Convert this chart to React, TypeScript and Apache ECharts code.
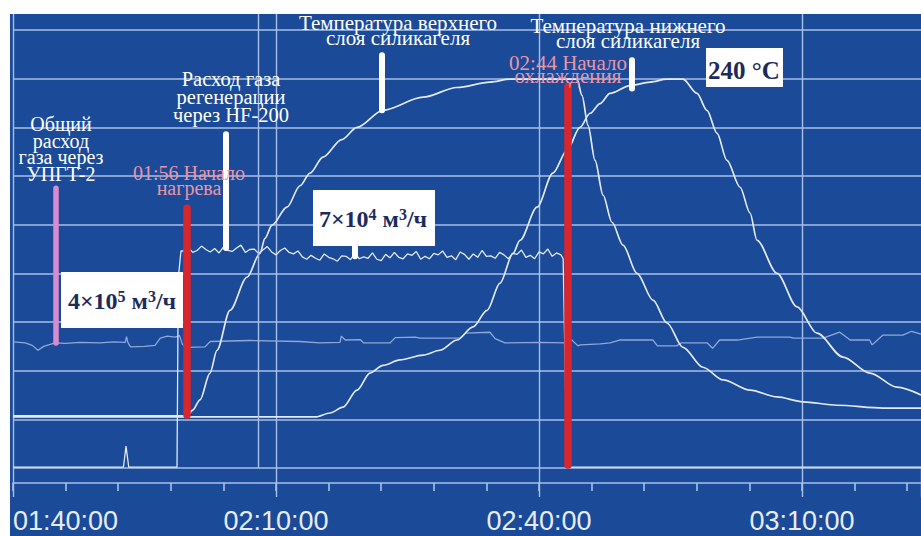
import { useEffect, useRef } from "react";
import * as echarts from "echarts";

// x values: minutes after 01:40:00; y values: trend units (one grid division = 1)
const START_MINUTES = 100; // 01:40:00
const X_MAX = 103.57;
const Y_MAX = 9.33;

// Общий расход газа через УПГТ-2
const totalGasFlow: [number, number][] = [
  [0, 2.59], [1.4, 2.57], [2.2, 2.52], [2.85, 2.42], [3.5, 2.5], [4.8, 2.57], [6, 2.56], [7.6, 2.58],
  [9.9, 2.57], [11.5, 2.59], [12.8, 2.58], [12.95, 2.7], [13.1, 2.58], [13.4, 2.49], [15, 2.5],
  [16.2, 2.52], [16.8, 2.67], [17.6, 2.71], [18.5, 2.69], [19.0, 2.72], [19.3, 2.55], [19.7, 2.48],
  [21.9, 2.49], [22.5, 2.6], [27, 2.62], [32.7, 2.6], [35, 2.57], [37.3, 2.58], [37.45, 2.71],
  [37.9, 2.63], [39.6, 2.64], [40, 2.57], [43, 2.57], [43.6, 2.68], [45.9, 2.69], [46.4, 2.67],
  [51, 2.67], [51.6, 2.77], [54.4, 2.79], [55, 2.66], [56.1, 2.57], [60, 2.58], [63, 2.57],
  [63.5, 2.67], [64.45, 2.51], [64.7, 2.53], [67, 2.55], [68.1, 2.57], [69.2, 2.63], [73.0, 2.63],
  [73.5, 2.51], [75.7, 2.51], [76.2, 2.57], [79.2, 2.57], [79.8, 2.46], [80.6, 2.63], [82.6, 2.63],
  [84.9, 2.69], [88.6, 2.69], [89.0, 2.67], [92.4, 2.67], [94.3, 2.79], [95.5, 2.63], [97.7, 2.63],
  [98.0, 2.53], [99.2, 2.73], [101.5, 2.73], [102.5, 2.81], [103.57, 2.75],
];

// Расход газа регенерации через HF-200
const regenFlowBefore: [number, number][] = [
  [0, 0.02], [12.6, 0.02], [12.89, 0.45], [13.2, 0.02], [18.71, 0.02], [18.85, 3.9], [19.16, 4.46],
];
const regenPlateauStart = 19.5;
const regenPlateauStep = 0.5;
const regenFlowPlateau = [
  4.46, 4.53, 4.43, 4.47, 4.56, 4.49, 4.44, 4.51, 4.42, 4.54,
  4.47, 4.45, 4.52, 4.58, 4.43, 4.49, 4.5, 4.41, 4.48, 4.55,
  4.44, 4.38, 4.47, 4.52, 4.43, 4.4, 4.46, 4.34, 4.29, 4.37,
  4.31, 4.27, 4.4, 4.33, 4.3, 4.25, 4.36, 4.35, 4.28, 4.41,
  4.3, 4.34, 4.31, 4.42, 4.29, 4.26, 4.39, 4.32, 4.43, 4.33,
  4.3, 4.4, 4.37, 4.45, 4.29, 4.35, 4.3, 4.41, 4.38, 4.46,
  4.33, 4.36, 4.28, 4.44, 4.39, 4.29, 4.4, 4.33, 4.47, 4.35,
  4.36, 4.31, 4.43, 4.38, 4.3, 4.41, 4.39, 4.48, 4.33, 4.37,
  4.3, 4.44, 4.4, 4.5, 4.35, 4.42, 4.38,
];
const regenFlowAfter: [number, number][] = [
  [62.75, 4.3], [63.19, 0.06], [63.6, 0.02], [103.57, 0.02],
];

// Температура верхнего слоя силикагеля
const upperTemp: [number, number][] = [
  [0, 1.07], [19.85, 1.07], [20.5, 1.19], [21.33, 1.4], [22.47, 1.95], [23.27, 2.42], [24.75, 3.24],
  [26.69, 3.92], [28.17, 4.41], [28.74, 4.72], [29.54, 4.99], [31.25, 5.36], [32.74, 5.8],
  [33.88, 6.06], [35.36, 6.39], [37.5, 6.75], [39.24, 7.0], [42.2, 7.35], [46.77, 7.62],
  [50.64, 7.82], [54.41, 7.93], [56.69, 7.99], [64.33, 7.99], [64.9, 7.66], [65.59, 7.04],
  [66.39, 6.32], [67.3, 5.61], [68.32, 5.05], [69.58, 4.58], [71.18, 4.0], [73.0, 3.45],
  [74.6, 2.98], [76.42, 2.48], [78.7, 2.07], [80.99, 1.81], [84.07, 1.6], [87.15, 1.46],
  [90.11, 1.36], [93.99, 1.29], [99.24, 1.23], [103.57, 1.23],
];

// Температура нижнего слоя силикагеля
const lowerTemp: [number, number][] = [
  [0, 1.05], [34.5, 1.05], [36.16, 1.13], [37.64, 1.25], [39.24, 1.6], [40.72, 1.95], [42.2, 2.11],
  [44.14, 2.22], [46.77, 2.32], [48.71, 2.42], [50.64, 2.63], [52.47, 2.9], [54.07, 3.24],
  [55.55, 3.8], [57.03, 4.41], [57.83, 4.68], [59.77, 5.36], [61.59, 6.06], [63.19, 6.53],
  [64.67, 7.0], [65.82, 7.29], [66.96, 7.49], [68.1, 7.7], [70.38, 7.86], [72.66, 7.93],
  [74.6, 7.99], [76.42, 7.99], [78.02, 7.7], [79.16, 7.35], [80.3, 6.88], [81.44, 6.32],
  [82.93, 5.77], [84.07, 5.24], [84.86, 4.68], [87.15, 4.0], [89.43, 3.31], [91.71, 2.77],
  [94.67, 2.28], [97.75, 1.95], [100.83, 1.66], [103.57, 1.5],
];

// pointer bars: time, lower value, upper value
const pinkBars = [[4.85, 2.57, 5.75]];
const whiteBars = [[24.3, 4.52, 6.86], [42.1, 7.35, 8.48], [70.6, 7.8, 8.38], [39.0, 4.35, 4.6]];
const redBars = [[19.85, 1.09, 5.34], [63.3, 0.06, 7.84]];
const cursorTime = 27.95;

const BG = "#1b4a98";
const GRID = "#a9bfe9";
const CURVE = "#e2e9f8";
const TOTAL = "#8fa8da";
const WHITE = "#ffffff";
const PINK = "#e895a8";
const NAVY = "#1c2a5c";
const SERIF = "'Liberation Serif', 'Times New Roman', serif";

const notes = [
  { lines: ["Общий", "расход", "газа через", "УПГТ-2"], cx: 61, base: 131, gap: 16.5, size: 20, color: WHITE },
  { lines: ["Расход газа", "регенерации", "через HF-200"], cx: 231, base: 86, gap: 18, size: 20.5, color: WHITE },
  { lines: ["01:56 Начало", "нагрева"], cx: 189, base: 180, gap: 14.5, size: 20, color: PINK },
  { lines: ["Температура верхнего", "слоя силикагеля"], cx: 398, base: 30, gap: 15, size: 21, color: WHITE },
  { lines: ["Температура нижнего", "слоя силикагеля"], cx: 628, base: 33, gap: 15, size: 21, color: WHITE },
  { lines: ["02:44 Начало", "охлаждения"], cx: 568, base: 70, gap: 13, size: 21, color: PINK },
];

const boxes = [
  { x: 61, y: 272, w: 122, h: 56, text: "{a|4×10}{s|5}{a| м}{s|3}{a|/ч}", cx: 122, base: 309, size: 24 },
  { x: 313, y: 190, w: 122, h: 56, text: "{a|7×10}{s|4}{a| м}{s|3}{a|/ч}", cx: 373, base: 227, size: 24 },
  { x: 706, y: 48, w: 77, h: 39, text: "{a|240 °C}", cx: 744, base: 79, size: 25 },
];

function fmtTime(v: number): string {
  const m = Math.round(v);
  if (Math.abs(v - m) > 0.01 || m % 30 !== 0) return "";
  const total = START_MINUTES + m;
  const hh = Math.floor(total / 60);
  const mm = total % 60;
  return `${String(hh).padStart(2, "0")}:${String(mm).padStart(2, "0")}:00`;
}

function buildOption() {
  const regenFlow: [number, number][] = [
    ...regenFlowBefore,
    ...regenFlowPlateau.map((v, i) => [regenPlateauStart + i * regenPlateauStep, v] as [number, number]),
    ...regenFlowAfter,
  ];

  const bar = (b: number[], color: string, width: number) => [
    { coord: [b[0], b[1]], lineStyle: { color, width, cap: "round", type: "solid" } },
    { coord: [b[0], b[2]] },
  ];

  const lineSeries = (name: string, data: [number, number][], color: string, width: number, smooth: number | boolean) => ({
    type: "line",
    name,
    data,
    symbol: "none",
    showSymbol: false,
    smooth,
    smoothMonotone: "x",
    silent: true,
    lineStyle: { color, width },
    emphasis: { disabled: true },
    z: 3,
  });

  const graphic: any[] = [
    { type: "rect", shape: { x: 0, y: 0, width: 921, height: 14 }, style: { fill: "#ffffff" }, z: 100, silent: true },
    { type: "rect", shape: { x: 0, y: 0, width: 10, height: 536 }, style: { fill: "#ffffff" }, z: 100, silent: true },
  ];
  notes.forEach((n) => {
    n.lines.forEach((line, i) => {
      graphic.push({
        type: "text",
        x: n.cx,
        y: n.base + i * n.gap - 0.34 * n.size,
        z: 110,
        silent: true,
        style: {
          text: line,
          fill: n.color,
          fontSize: n.size,
          fontFamily: SERIF,
          align: "center",
          verticalAlign: "middle",
        },
      });
    });
  });
  boxes.forEach((b) => {
    graphic.push({
      type: "rect",
      shape: { x: b.x, y: b.y, width: b.w, height: b.h },
      style: { fill: "#ffffff" },
      z: 105,
      silent: true,
    });
    graphic.push({
      type: "text",
      x: b.cx,
      y: b.base - 0.34 * b.size,
      z: 110,
      silent: true,
      style: {
        text: b.text,
        align: "center",
        verticalAlign: "middle",
        rich: {
          a: { fontSize: b.size, fontFamily: SERIF, fontWeight: "bold", fill: NAVY, lineHeight: b.size },
          s: { fontSize: 16, fontFamily: SERIF, fontWeight: "bold", fill: NAVY, verticalAlign: "top", lineHeight: 16 },
        },
      },
    });
  });

  return {
    animation: false,
    backgroundColor: BG,
    grid: { left: 13, right: 0, top: 14, bottom: 68, containLabel: false },
    xAxis: [
      {
        type: "value",
        min: 0,
        max: X_MAX,
        interval: 6,
        position: "bottom",
        offset: 15,
        axisLine: { show: true, onZero: false, lineStyle: { color: GRID, width: 1.6 } },
        axisTick: { show: true, length: 8, lineStyle: { color: GRID, width: 1.6 } },
        axisLabel: {
          show: true,
          formatter: fmtTime,
          color: "#e6edf9",
          fontFamily: "'Liberation Sans', Arial, sans-serif",
          fontSize: 27,
          margin: 24,
          alignMinLabel: "left",
          showMinLabel: true,
          showMaxLabel: false,
        },
        splitLine: { show: false },
      },
      {
        type: "value",
        min: 0,
        max: X_MAX,
        interval: 30,
        position: "bottom",
        offset: 0,
        axisLine: { show: false, onZero: false },
        axisTick: { show: true, length: 29, lineStyle: { color: GRID, width: 1.4 } },
        axisLabel: { show: false },
        splitLine: { show: true, showMinLine: true, showMaxLine: false, lineStyle: { color: GRID, width: 1.4 } },
      },
    ],
    yAxis: {
      type: "value",
      min: 0,
      max: Y_MAX,
      interval: 1,
      axisLine: { show: false },
      axisTick: { show: false },
      axisLabel: { show: false },
      splitLine: { show: true, showMaxLine: false, lineStyle: { color: GRID, width: 1.6 } },
    },
    series: [
      lineSeries("Общий расход газа через УПГТ-2", totalGasFlow, TOTAL, 1.3, false),
      lineSeries("Расход газа регенерации через HF-200", regenFlow, CURVE, 1.3, false),
      lineSeries("Температура верхнего слоя силикагеля", upperTemp, CURVE, 1.7, 0.3),
      lineSeries("Температура нижнего слоя силикагеля", lowerTemp, CURVE, 1.7, 0.3),
      {
        type: "line",
        name: "markers",
        data: [],
        silent: true,
        z: 5,
        markLine: {
          silent: true,
          symbol: ["none", "none"],
          label: { show: false },
          emphasis: { disabled: true },
          animation: false,
          data: [
            { xAxis: cursorTime, lineStyle: { color: GRID, width: 1.4, type: "solid" } },
            ...pinkBars.map((b) => bar(b, "#d98bcf", 5.5)),
            ...whiteBars.map((b) => bar(b, WHITE, 6)),
            ...redBars.map((b) => bar(b, "#d8262c", 7.5)),
          ],
        },
      },
    ],
    graphic,
  };
}

export default function App() {
  const ref = useRef<HTMLDivElement>(null);
  useEffect(() => {
    if (!ref.current) return;
    const chart = echarts.init(ref.current, undefined, { renderer: "svg" });
    chart.setOption(buildOption() as any);
    return () => chart.dispose();
  }, []);
  return <div ref={ref} style={{ position: "absolute", left: 0, top: 0, width: 921, height: 536 }} />;
}
